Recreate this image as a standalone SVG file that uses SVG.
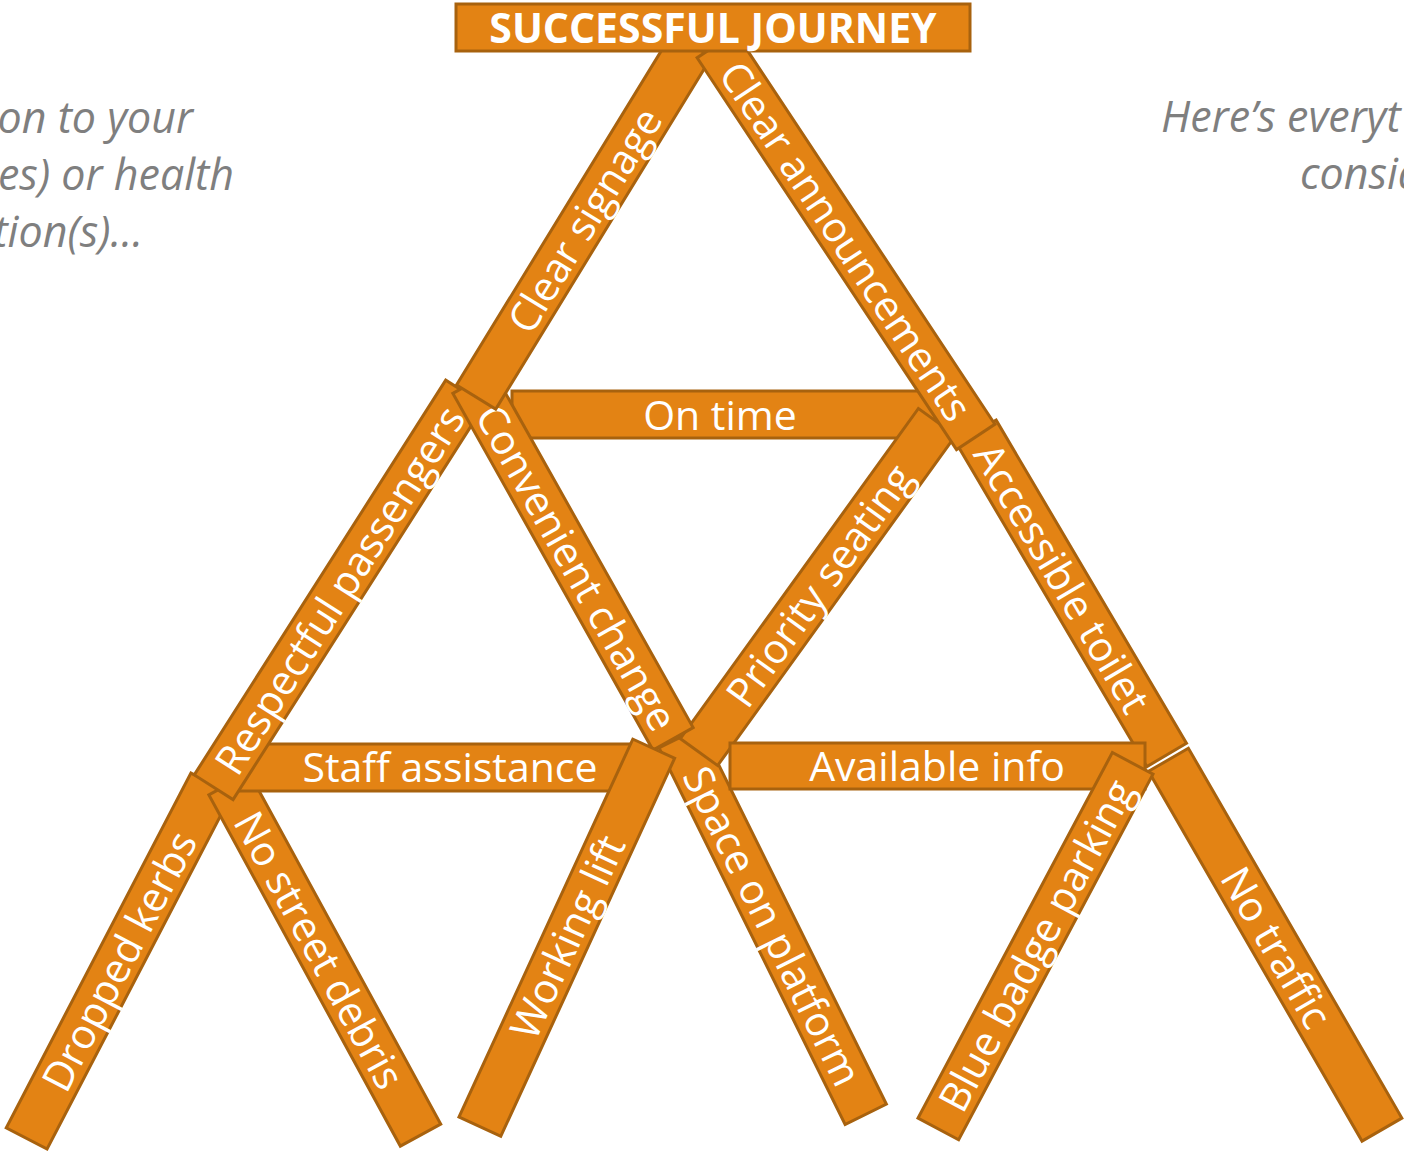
<svg xmlns="http://www.w3.org/2000/svg" width="1404" height="1153" viewBox="0 0 1404 1153">
  <style>
    .plank { fill: #E38314; stroke: #A8620E; stroke-width: 3; }
    .lbl { font-family: "Open Sans", "Noto Sans", sans-serif; font-size: 41px; fill: #FFFFFF; text-anchor: middle; }
    .title { font-family: "Open Sans", "Noto Sans", sans-serif; font-size: 41px; font-weight: bold; fill: #FFFFFF; text-anchor: middle; }
    .note { font-family: "Open Sans", "Noto Sans", sans-serif; font-size: 43px; font-style: italic; fill: #7F7F7F; }
  </style>

  <rect width="1404" height="1153" fill="#FFFFFF"/>

  <!-- side notes, running past the page edges -->
  <g id="note-left" class="note" text-anchor="end">
    <text x="193" y="133">on to your</text>
    <text x="234" y="190">es) or health</text>
    <text x="143" y="247">tion(s)…</text>
  </g>
  <g id="note-right" class="note" text-anchor="start">
    <text x="1161" y="132">Here’s everyt</text>
    <text x="1300" y="189">consid</text>
  </g>

  <!-- planks, back to front; each is a rotated bar with its label -->
  <g id="dropped-kerbs" transform="translate(119,961) rotate(-62.5)">
    <rect class="plank" x="-200" y="-23" width="400" height="46"/>
    <text class="lbl" x="0" y="15">Dropped kerbs</text>
  </g>
  <g id="no-street-debris" transform="translate(324.8,959.5) rotate(61.4)">
    <rect class="plank" x="-200" y="-23" width="400" height="46"/>
    <text class="lbl" x="-11" y="15">No street debris</text>
  </g>
  <g id="no-traffic" transform="translate(1275.2,944.7) rotate(60)">
    <rect class="plank" x="-213.5" y="-23" width="427" height="46"/>
    <text class="lbl" x="3" y="15">No traffic</text>
  </g>
  <g id="staff-assistance">
    <rect class="plank" x="230" y="744" width="410" height="47"/>
    <text class="lbl" x="450" y="782">Staff assistance</text>
  </g>
  <g id="respectful-passengers" transform="translate(339.4,589.9) rotate(-57.5)">
    <rect class="plank" x="-234" y="-23" width="468" height="46"/>
    <text class="lbl" x="0" y="15">Respectful passengers</text>
  </g>
  <g id="space-on-platform" transform="translate(772.7,926) rotate(63.7)">
    <rect class="plank" x="-210" y="-23" width="420" height="46"/>
    <text class="lbl" x="0" y="15">Space on platform</text>
  </g>
  <g id="on-time">
    <rect class="plank" x="512" y="391" width="423" height="47"/>
    <text class="lbl" x="720" y="430">On time</text>
  </g>
  <g id="priority-seating" transform="translate(818,587) rotate(-54.2)">
    <rect class="plank" x="-203.5" y="-23" width="407" height="46"/>
    <text class="lbl" x="2" y="15">Priority seating</text>
  </g>
  <g id="accessible-toilet" transform="translate(1071.5,593.4) rotate(59.5)">
    <rect class="plank" x="-187.5" y="-23" width="375" height="46"/>
    <text class="lbl" x="-18" y="15">Accessible toilet</text>
  </g>
  <g id="available-info">
    <rect class="plank" x="730" y="743" width="415" height="46"/>
    <text class="lbl" x="937" y="781">Available info</text>
  </g>
  <g id="blue-badge-parking" transform="translate(1035.5,946.1) rotate(-62)">
    <rect class="plank" x="-207" y="-23" width="414" height="46"/>
    <text class="lbl" x="1" y="15">Blue badge parking</text>
  </g>
  <g id="convenient-change" transform="translate(573,560.5) rotate(60.7)">
    <rect class="plank" x="-204.5" y="-23" width="409" height="46"/>
    <text class="lbl" x="8" y="15">Convenient change</text>
  </g>
  <g id="working-lift" transform="translate(566.8,937.7) rotate(-65.3)">
    <rect class="plank" x="-208" y="-23" width="416" height="46"/>
    <text class="lbl" x="1" y="15">Working lift</text>
  </g>
  <g id="clear-signage" transform="translate(584,221) rotate(-58.5)">
    <rect class="plank" x="-206.5" y="-23" width="413" height="46"/>
    <text class="lbl" x="1" y="15">Clear signage</text>
  </g>
  <g id="clear-announcements" transform="translate(846,241) rotate(56.5)">
    <rect class="plank" x="-235" y="-23" width="470" height="46"/>
    <text class="lbl" x="0" y="15">Clear announcements</text>
  </g>
  <g id="successful-journey">
    <rect class="plank" x="456" y="4" width="514" height="47"/>
    <text class="title" x="713" y="43">SUCCESSFUL JOURNEY</text>
  </g>

  <!-- no connectors: the planks touch directly -->
  <g id="connectors"/>
</svg>
